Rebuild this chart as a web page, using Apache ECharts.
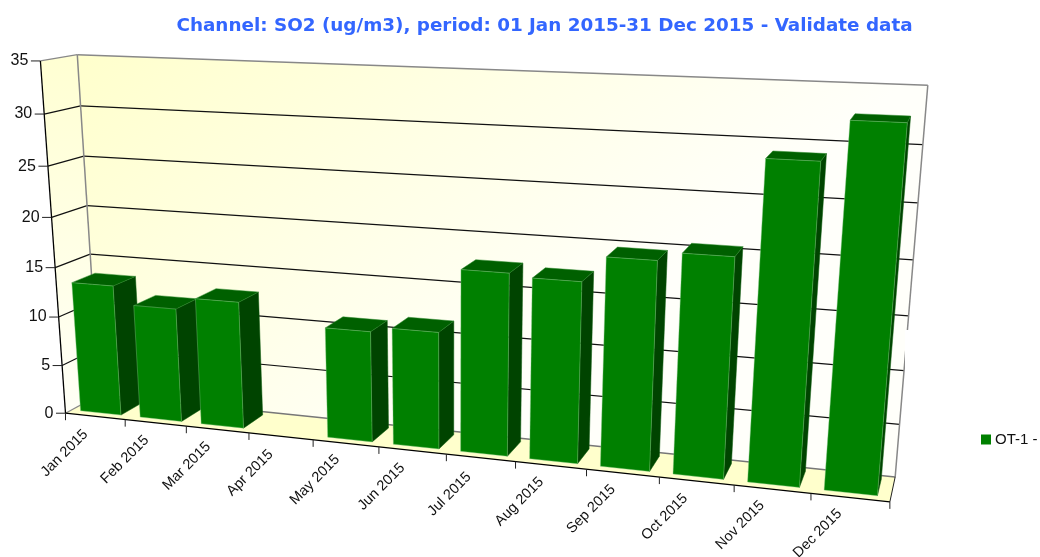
<!DOCTYPE html>
<html><head><meta charset="utf-8">
<style>html,body{margin:0;padding:0;background:#fff}#c{width:1040px;height:557px}</style>
<script src="https://cdn.jsdelivr.net/npm/echarts@6/dist/echarts.min.js"></script>
</head><body><div id="c"></div>
<script>
const categories=['Jan 2015','Feb 2015','Mar 2015','Apr 2015','May 2015','Jun 2015','Jul 2015','Aug 2015','Sep 2015','Oct 2015','Nov 2015','Dec 2015'];
const values=[13.3,11.5,12.7,null,10.9,11.4,17.5,17.2,19.6,20.4,29,32.5];
const yTicks=[0,5,10,15,20,25,30,35];
const seriesName='OT-1 -';
const titleText='Channel: SO2 (ug/m3), period: 01 Jan 2015-31 Dec 2015 - Validate data';
// camera calibration: slot, value, depth -> pixel
const anchors=[[0,0,0,66,412.7],[0,15,0,55,267],[0,35,0,40.3,61.3],[3,0,0,249,433],[6,0,0,446,455],[9,0,0,659,477.3],[12,0,0,890.3,501.7],
[0,0,1,99,396],[0,15,1,90.7,253.3],[0,35,1,77,54.7],[12,0,1,895.3,476.7],[12,15,1,908,315],[12,35,1,928.3,86]];
function solve(A,b){const n=b.length;const M=A.map((r,i)=>r.concat(b[i]));
 for(let c=0;c<n;c++){let p=c;for(let r=c+1;r<n;r++)if(Math.abs(M[r][c])>Math.abs(M[p][c]))p=r;[M[c],M[p]]=[M[p],M[c]];
  for(let r=0;r<n;r++){if(r===c)continue;const f=M[r][c]/M[c][c];for(let k=c;k<=n;k++)M[r][k]-=f*M[c][k];}}
 return M.map((r,i)=>r[n]/r[i]);}
const P=(function(){const rows=[],rhs=[];anchors.forEach(a=>{const X=a[0]/12,Y=a[1]/35,Z=a[2],u=a[3]/1000,v=a[4]/1000;
 rows.push([X,Y,Z,1,0,0,0,0,-u*X,-u*Y,-u*Z]);rhs.push(u);
 rows.push([0,0,0,0,X,Y,Z,1,-v*X,-v*Y,-v*Z]);rhs.push(v);});
 const N=[],B=[];for(let i=0;i<11;i++){N.push([]);let s=0;for(let j=0;j<11;j++){let t=0;rows.forEach(r=>t+=r[i]*r[j]);N[i].push(t);}rows.forEach((r,k)=>s+=r[i]*rhs[k]);B.push(s);}
 return solve(N,B);})();
function proj(api,slot,val,z){const c=api.coord([slot,val]);const X=c[0]/api.getWidth(),Y=1-c[1]/api.getHeight();
 const w=P[8]*X+P[9]*Y+P[10]*z+1;
 return [1000*(P[0]*X+P[1]*Y+P[2]*z+P[3])/w,1000*(P[4]*X+P[5]*Y+P[6]*z+P[7])/w];}
const poly=(pts,style)=>({type:'polygon',shape:{points:pts},style});
const line=(a,b,stroke,w)=>({type:'line',shape:{x1:a[0],y1:a[1],x2:b[0],y2:b[1]},style:{stroke,lineWidth:w}});
const axisFont='14.5px "Liberation Sans",Arial,sans-serif';
const yFont='16px "Liberation Sans",Arial,sans-serif';
const grad=(x,y,x2,y2,stops)=>new echarts.graphic.LinearGradient(x,y,x2,y2,stops.map((c,i)=>({offset:i/(stops.length-1),color:c})));
function renderFrame(params,api){
 const p=(s,v,z)=>proj(api,s,v,z);const ch=[];const T=yTicks[yTicks.length-1],E=categories.length;
 ch.push(poly([p(0,0,1),p(0,T,1),p(E,T,1),p(E,0,1)],{fill:grad(0,0,.4,1,['#ffffcc','#ffffe4','#fffffa'])}));
 ch.push(poly([p(0,0,0),p(0,T,0),p(0,T,1),p(0,0,1)],{fill:grad(0,0,.5,1,['#ffffd2','#fffff6'])}));
 ch.push(poly([p(0,0,0),p(E,0,0),p(E,0,1),p(0,0,1)],{fill:'#ffffcc'}));
 yTicks.forEach(t=>{ if(t>0&&t<T){ch.push(line(p(0,t,0),p(0,t,1),'#111',1.2));ch.push(line(p(0,t,1),p(E,t,1),'#111',1.2));}});
 ch.push(line(p(0,T,0),p(0,T,1),'#888',1.2));ch.push(line(p(0,T,1),p(E,T,1),'#888',1.5));
 ch.push(line(p(0,0,1),p(0,T,1),'#888',1.5));ch.push(line(p(E,0,1),p(E,T,1),'#888',1.5));
 ch.push(line(p(0,0,0),p(0,0,1),'#888',1.2));ch.push(line(p(0,0,1),p(E,0,1),'#777',1.5));ch.push(line(p(E,0,0),p(E,0,1),'#222',1));
 ch.push(line(p(0,0,0),p(0,T,0),'#000',1.3));ch.push(line(p(0,0,0),p(E,0,0),'#000',1.3));
 yTicks.forEach(t=>{const a=p(0,t,0);ch.push(line([a[0]-9.5,a[1]],a,'#222',1));
  ch.push({type:'text',x:a[0]-12,y:a[1],style:{text:String(t),fill:'#111',font:yFont,align:'right',verticalAlign:'middle'}});});
 for(let i=0;i<=E;i++){const a=p(i,0,0);ch.push(line(a,[a[0],a[1]+7],'#222',1));
  if(i<E)ch.push({type:'text',x:a[0]-1+.7*i,y:a[1]+40,rotation:Math.PI/4,style:{text:categories[i],fill:'#111',font:axisFont,align:'center',verticalAlign:'middle'}});}
 return {type:'group',children:ch};
}
const slotA=.15,slotB=.83,depthA=.18,depthB=.85;
function renderBar(params,api){
 const v=api.value(1);if(v==null||isNaN(v))return null;
 const i=api.value(0),x0=i+slotA,x1=i+slotB;const p=(s,y,z)=>proj(api,s,y,z);
 const edge='rgba(130,200,130,.5)';
 return {type:'group',children:[
  poly([p(x1,0,depthA),p(x1,0,depthB),p(x1,v,depthB),p(x1,v,depthA)],{fill:'#004400',stroke:'#0a5a0a',lineWidth:.5}),
  poly([p(x0,v,depthA),p(x1,v,depthA),p(x1,v,depthB),p(x0,v,depthB)],{fill:'#006000',stroke:'#2f8a2f',lineWidth:.5}),
  poly([p(x0,0,depthA),p(x1,0,depthA),p(x1,v,depthA),p(x0,v,depthA)],{fill:'#008000',stroke:edge,lineWidth:.8})
 ]};
}
const chart=echarts.init(document.getElementById('c'),null,{renderer:'canvas'});
chart.setOption({animation:false,backgroundColor:'#fff',
 title:{text:titleText,left:539.5,top:12,textAlign:'center',textStyle:{color:'#3366ff',fontFamily:'"DejaVu Sans",Verdana,sans-serif',fontWeight:'bold',fontSize:18.35}},
 legend:{data:[{name:seriesName,icon:'rect'}],left:981,top:432,itemWidth:10,itemHeight:10,itemGap:3,padding:0,selectedMode:false,textStyle:{color:'#111',fontFamily:'"Liberation Sans",Arial,sans-serif',fontSize:15,padding:[0,0,0,-1]}},
 grid:{left:0,right:0,top:0,bottom:0,containLabel:false},
 xAxis:{type:'value',min:0,max:categories.length,show:false},
 yAxis:{type:'value',min:0,max:yTicks[yTicks.length-1],interval:5,show:false},
 graphic:[{type:'rect',shape:{x:905,y:330,width:8,height:40},style:{fill:'#fff'},z:1}],
 series:[
  {type:'custom',name:'frame',silent:true,z:0,data:[[0,0]],encode:{x:0,y:1},renderItem:renderFrame},
  {type:'custom',name:seriesName,silent:true,z:2,itemStyle:{color:'#008000'},encode:{x:0,y:1},data:values.map((v,i)=>[i,v]),renderItem:renderBar}
 ]});
</script></body></html>
